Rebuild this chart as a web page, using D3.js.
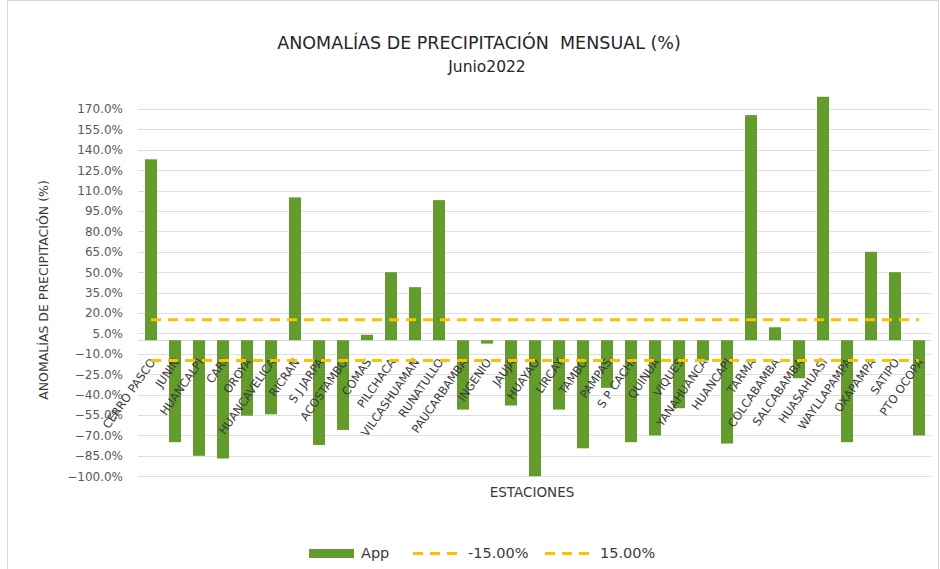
<!DOCTYPE html>
<html>
<head>
<meta charset="utf-8">
<script src="https://cdn.jsdelivr.net/npm/d3@7"></script>
<style>
  html, body { margin: 0; padding: 0; background: #fff; }
  svg { display: block; font-family: "DejaVu Sans", sans-serif; }
  text { white-space: pre; }
</style>
</head>
<body>
<svg id="chart" width="940" height="569"></svg>
<script>
const stations = ["CERRO PASCO","JUNIN","HUANCALPI","CARI","OROYA","HUANCAVELICA","RICRAN","S J JARPA","ACOSTAMBO","COMAS","PILCHACA","VILCASHUAMAN","RUNATULLO","PAUCARBAMBA","INGENIO","JAUJA","HUAYAO","LIRCAY","TAMBO","PAMPAS","S P CACHI","QUINUA","VIQUES","YANAHUANCA","HUANCAPI","TARMA","COLCABAMBA","SALCABAMBA","HUASAHUASI","WAYLLAPAMPA","OXAPAMPA","SATIPO","PTO OCOPA"];
const appValues = [133,-75,-85,-87,-55.5,-54.5,105,-77,-66,4,50,39,103,-51,-2.5,-48,-100,-51,-79.5,-35,-75,-70,-50,-15,-76,165.5,9.5,-28,179,-75,65,50,-70];
const lowerThreshold = -15;
const upperThreshold = 15;
const yTicks = [-100,-85,-70,-55,-40,-25,-10,5,20,35,50,65,80,95,110,125,140,155,170];
const titleLines = ["ANOMALÍAS DE PRECIPITACIÓN  MENSUAL (%)", "Junio2022"];
const yTitle = "ANOMALÍAS DE PRECIPITACIÓN (%)";
const xTitle = "ESTACIONES";
const legendLabels = ["App", "-15.00%", "15.00%"];

const svg = d3.select("#chart");
const green = "#649B2D";
const gold = "#FFC000";
const textCol = "#3a3a3a";
const FONT = "'DejaVu Sans', sans-serif";

// chart border
svg.append("rect").attr("x", 7.5).attr("y", 0.5).attr("width", 931).attr("height", 600)
  .attr("fill", "none").attr("stroke", "#d9d9d9").attr("stroke-width", 1);

const x = d3.scaleBand().domain(stations).range([139, 931]).paddingInner(0.5).paddingOuter(0.25);
const y = d3.scaleLinear().domain([-100, 185]).range([476.2, 88.6]);

// gridlines
svg.append("g").selectAll("line").data(yTicks).join("line")
  .attr("x1", 138).attr("x2", 931)
  .attr("y1", d => Math.round(y(d)) + 0.5).attr("y2", d => Math.round(y(d)) + 0.5)
  .attr("stroke", "#dedede").attr("stroke-width", 1);

// y axis tick labels
const yAxis = d3.axisLeft(y).tickValues(yTicks).tickSize(0).tickPadding(0)
  .tickFormat(d => d3.format(".1f")(d) + "%");
const gy = svg.append("g").attr("transform", "translate(123,0)").call(yAxis);
gy.select(".domain").remove();
gy.selectAll("text").attr("font-size", 12).attr("fill", "#595959").attr("font-family", FONT);

// zero axis line
svg.append("line").attr("x1", 138).attr("x2", 931)
  .attr("y1", Math.round(y(0)) + 0.5).attr("y2", Math.round(y(0)) + 0.5)
  .attr("stroke", "#d9d9d9");

// bars
svg.append("g").selectAll("rect").data(stations).join("rect")
  .attr("x", d => x(d))
  .attr("width", x.bandwidth())
  .attr("y", (d, i) => Math.min(y(appValues[i]), y(0)))
  .attr("height", (d, i) => Math.abs(y(appValues[i]) - y(0)))
  .attr("fill", green);

// x labels
const xAxis = d3.axisBottom(x).tickSize(0).tickPadding(0);
const gx = svg.append("g").call(xAxis);
gx.select(".domain").remove();
gx.selectAll(".tick").attr("transform", d => `translate(${x(d) + x.bandwidth() / 2 + 5},362)`);
gx.selectAll("text")
  .attr("y", 0).attr("dy", 0)
  .attr("text-anchor", "end")
  .attr("transform", "rotate(-55)")
  .attr("font-size", 11.5).attr("fill", textCol).attr("font-family", FONT);

// threshold lines
const lineGen = d3.line().x(d => x(d) + x.bandwidth() / 2);
[lowerThreshold, upperThreshold].forEach(t => {
  svg.append("path")
    .attr("d", lineGen.y(() => y(t))(stations))
    .attr("fill", "none").attr("stroke", gold).attr("stroke-width", 3)
    .attr("stroke-dasharray", "10,7");
});

// titles
svg.append("text").attr("x", 479).attr("y", 49).attr("text-anchor", "middle")
  .attr("font-size", 17.5).attr("fill", "#262626").text(titleLines[0]);
svg.append("text").attr("x", 487).attr("y", 72).attr("text-anchor", "middle")
  .attr("font-size", 15.5).attr("fill", "#262626").text(titleLines[1]);

svg.append("text").attr("transform", "translate(48,290) rotate(-90)").attr("text-anchor", "middle")
  .attr("font-size", 12.5).attr("fill", textCol).text(yTitle);
svg.append("text").attr("x", 532).attr("y", 497).attr("text-anchor", "middle")
  .attr("font-size", 13.5).attr("fill", textCol).text(xTitle);

// legend
const lg = svg.append("g");
lg.append("rect").attr("x", 309).attr("y", 549).attr("width", 45).attr("height", 9).attr("fill", green);
lg.append("text").attr("x", 361).attr("y", 558).attr("font-size", 14.5).attr("fill", textCol).text(legendLabels[0]);
lg.append("line").attr("x1", 413).attr("x2", 462).attr("y1", 553.5).attr("y2", 553.5)
  .attr("stroke", gold).attr("stroke-width", 3).attr("stroke-dasharray", "10,7");
lg.append("text").attr("x", 468).attr("y", 558).attr("font-size", 14.5).attr("fill", textCol).text(legendLabels[1]);
lg.append("line").attr("x1", 545).attr("x2", 595).attr("y1", 553.5).attr("y2", 553.5)
  .attr("stroke", gold).attr("stroke-width", 3).attr("stroke-dasharray", "10,7");
lg.append("text").attr("x", 600).attr("y", 558).attr("font-size", 14.5).attr("fill", textCol).text(legendLabels[2]);
</script>
</body>
</html>
